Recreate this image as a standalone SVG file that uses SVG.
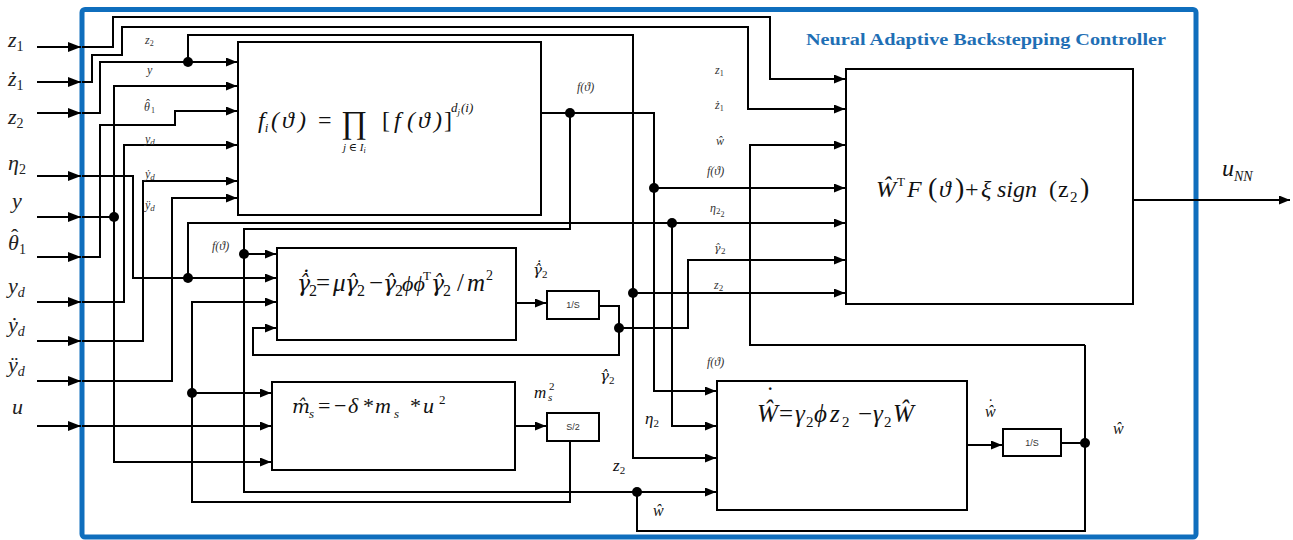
<svg xmlns="http://www.w3.org/2000/svg" width="1293" height="540" viewBox="0 0 1293 540">
<style>
.ln{fill:none;stroke:#000;stroke-width:2}
.ar{marker-end:url(#ah)}
.ai{marker-end:url(#ahi)}
.bx{fill:#fff;stroke:#000;stroke-width:2}
.dot{fill:#000}
.mt{font-family:"Liberation Serif","DejaVu Serif",serif;font-style:italic;fill:#111}
.dv{font-family:"DejaVu Serif",serif}
.up{font-style:normal}
.sm{font-family:"Liberation Serif","DejaVu Serif",serif;font-style:italic;fill:#333;font-size:12px}
.il{font-family:"Liberation Serif","DejaVu Serif",serif;font-style:italic;font-size:22px;fill:#222}
.tiny{font-family:"Liberation Sans",sans-serif;font-size:9px;fill:#333}
.ttl{font-family:"Liberation Serif",serif;font-weight:bold;font-size:17px;fill:#1f6fb5}
</style>
<defs>
<marker id="ah" markerWidth="11" markerHeight="9" refX="11" refY="4.5" orient="auto" markerUnits="userSpaceOnUse"><path d="M0,0 L11,4.5 L0,9 z" fill="#000"/></marker>
<marker id="ahi" markerWidth="13" markerHeight="10" refX="13" refY="5" orient="auto" markerUnits="userSpaceOnUse"><path d="M0,0 L13,5 L0,10 z" fill="#000"/></marker>
</defs>
<rect width="1293" height="540" fill="#fff"/>
<g id="frame">
<rect x="82" y="9.5" width="1114" height="527.5" rx="3" fill="none" stroke="#0f6ebd" stroke-width="5"/>
<text class="ttl" x="806" y="45" textLength="360" lengthAdjust="spacingAndGlyphs">Neural Adaptive Backstepping Controller</text>
</g>
<g id="inputs">
<g id="in-z1"><text class="il" x="8" y="47">z<tspan class="up" font-size="14" dy="4">1</tspan></text></g>
<g id="in-zd1"><text class="il" x="8" y="86">ż<tspan class="up" font-size="14" dy="4">1</tspan></text></g>
<g id="in-z2"><text class="il" x="8" y="124">z<tspan class="up" font-size="14" dy="4">2</tspan></text></g>
<g id="in-eta2"><text class="il" x="8" y="170">η<tspan class="up" font-size="14" dy="4">2</tspan></text></g>
<g id="in-y"><text class="il" x="12" y="208">y</text></g>
<g id="in-th1"><text class="il"><tspan x="8" y="250">θ</tspan><tspan class="up" x="11" y="244">ˆ</tspan><tspan class="up" font-size="14" x="19" y="254">1</tspan></text></g>
<g id="in-yd"><text class="il" x="8" y="293">y<tspan font-size="14" dy="4">d</tspan></text></g>
<g id="in-ydd"><text class="il" x="8" y="332">ẏ<tspan font-size="14" dy="4">d</tspan></text></g>
<g id="in-yddd"><text class="il" x="8" y="372">ÿ<tspan font-size="14" dy="4">d</tspan></text></g>
<g id="in-u"><text class="il" x="12" y="414">u</text></g>
</g>
<g id="node-fi">
<rect class="bx" x="238" y="42" width="303" height="173"/>
<text class="mt" font-size="24" y="128"><tspan x="258">f</tspan><tspan font-size="13" dy="4">i</tspan><tspan x="271" dy="-4">(</tspan><tspan x="282">ϑ</tspan><tspan x="298">)</tspan><tspan class="up" x="318">=</tspan></text>
<text class="mt up" x="341" y="133" font-size="32" font-style="normal">∏</text>
<text class="mt" x="343" y="151" font-size="11">j ∈ I<tspan font-size="8" dy="2">i</tspan></text>
<text class="mt" font-size="24" y="128"><tspan class="up" x="382">[</tspan><tspan x="394">f</tspan><tspan x="407">(</tspan><tspan x="418">ϑ</tspan><tspan x="434">)</tspan><tspan class="up" x="444">]</tspan></text>
<text class="mt" x="451" y="112" font-size="13">d<tspan font-size="9" dy="3">j</tspan><tspan dx="1" dy="-3">(i)</tspan></text>
</g>
<g id="node-gamma">
<rect class="bx" x="277" y="248" width="239" height="92"/>
<text class="mt" font-size="25"><tspan class="dv" font-size="22" x="297" y="291">γ̂̇</tspan><tspan class="up" font-size="16" x="309" y="296">2</tspan><tspan class="up" x="316" y="291">=</tspan><tspan x="333" y="291">μ</tspan><tspan class="dv" font-size="22" x="345" y="291">γ̂</tspan><tspan class="up" font-size="16" x="357" y="296">2</tspan><tspan class="up" x="369" y="291">−</tspan><tspan class="dv" font-size="22" x="383" y="291">γ̂</tspan><tspan class="up" font-size="16" x="395" y="296">2</tspan><tspan font-size="22" x="402" y="291">ϕϕ</tspan><tspan class="up" font-size="13" x="423" y="280">T</tspan><tspan class="dv" font-size="22" x="431" y="291">γ̂</tspan><tspan class="up" font-size="16" x="443" y="296">2</tspan><tspan class="up" x="457" y="291">/</tspan><tspan x="467" y="291">m</tspan><tspan class="up" font-size="14" x="486" y="280">2</tspan></text>
</g>
<g id="node-int-gamma">
<rect class="bx" x="547" y="291" width="52" height="28"/>
<text class="tiny" x="573" y="308" text-anchor="middle">1/S</text>
</g>
<g id="node-ms">
<rect class="bx" x="272" y="382" width="243" height="88"/>
<text class="mt" font-size="22"><tspan class="dv" font-size="19" x="292" y="413">m̂</tspan><tspan font-size="13" x="309" y="418">s</tspan><tspan class="up" x="318" y="413">=</tspan><tspan class="up" x="334" y="413">−</tspan><tspan x="348" y="413">δ</tspan><tspan class="up" x="363" y="413">*</tspan><tspan x="375" y="413">m</tspan><tspan font-size="13" x="394" y="418">s</tspan><tspan class="up" x="410" y="413">*</tspan><tspan x="423" y="413">u</tspan><tspan class="up" font-size="13" x="439" y="404">2</tspan></text>
</g>
<g id="node-s2">
<rect class="bx" x="547" y="413" width="52" height="28"/>
<text class="tiny" x="573" y="430" text-anchor="middle">S/2</text>
</g>
<g id="node-W">
<rect class="bx" x="717" y="381" width="250" height="129"/>
<text class="mt" font-size="25"><tspan x="757" y="422">Ŵ</tspan><tspan class="up" x="766" y="404">˙</tspan><tspan class="up" x="779" y="422">=</tspan><tspan x="795" y="422">γ</tspan><tspan class="up" font-size="15" x="806" y="427">2</tspan><tspan x="814" y="422">ϕ</tspan><tspan x="830" y="422">z</tspan><tspan class="up" font-size="15" x="842" y="427">2</tspan><tspan class="up" x="858" y="422">−</tspan><tspan x="873" y="422">γ</tspan><tspan class="up" font-size="15" x="884" y="427">2</tspan><tspan x="893" y="422">Ŵ</tspan></text>
</g>
<g id="node-int-W">
<rect class="bx" x="1003" y="429" width="58" height="27"/>
<text class="tiny" x="1032" y="446" text-anchor="middle">1/S</text>
</g>
<g id="node-out">
<rect class="bx" x="846" y="69" width="287" height="235"/>
<text class="mt" font-size="24" y="197"><tspan x="876">Ŵ</tspan><tspan class="up" font-size="13" x="897" dy="-11">T</tspan><tspan x="907" dy="11">F</tspan><tspan class="up" font-size="28" x="928">(</tspan><tspan x="939">ϑ</tspan><tspan class="up" font-size="28" x="955">)</tspan><tspan class="up" x="965">+</tspan><tspan x="981">ξ</tspan><tspan x="997">sign</tspan><tspan class="up" x="1049">(</tspan><tspan class="up" x="1058">z</tspan><tspan class="up" font-size="15" x="1070" dy="5">2</tspan><tspan class="up" font-size="28" x="1080" dy="-5">)</tspan></text>
<text class="mt" font-size="24" x="1222" y="176">u<tspan font-size="14" dy="5">NN</tspan></text>
</g>
<g id="connectors">
<path class="ln ai" d="M37,47 H81"/>
<path class="ln ai" d="M37,82 H81"/>
<path class="ln ai" d="M37,113 H81"/>
<path class="ln ai" d="M37,176 H81"/>
<path class="ln ai" d="M37,217 H81"/>
<path class="ln ai" d="M37,257 H81"/>
<path class="ln ai" d="M37,302 H81"/>
<path class="ln ai" d="M37,341 H81"/>
<path class="ln ai" d="M37,381 H81"/>
<path class="ln ai" d="M37,426 H81"/>
<path class="ln ar" d="M82,47 H113 V17 H770 V79 H845"/>
<path class="ln ar" d="M82,82 H92 V55 H122 V27 H748 V109 H845"/>
<path class="ln ar" d="M82,113 H100 V62 H237"/>
<path class="ln ar" d="M188,62 V35 H633 V458 H716"/>
<path class="ln ar" d="M633,293 H845"/>
<path class="ln ar" d="M82,176 H133 V278 H276"/>
<path class="ln ar" d="M188,278 V223 H845"/>
<path class="ln ar" d="M672,223 V426 H716"/>
<path class="ln" d="M82,217 H114"/>
<path class="ln ar" d="M114,217 V86 H237"/>
<path class="ln ar" d="M114,217 V462 H271"/>
<path class="ln ar" d="M82,257 H100 V125 H175 V111 H237"/>
<path class="ln ar" d="M82,302 H124 V145 H237"/>
<path class="ln ar" d="M82,341 H143 V181 H237"/>
<path class="ln ar" d="M82,381 H172 V198 H237"/>
<path class="ln ar" d="M82,426 H271"/>
<path class="ln ar" d="M541,113 H654 V391 H716"/>
<path class="ln ar" d="M570,113 V229 H244 V492 H716"/>
<path class="ln ar" d="M244,254 H276"/>
<path class="ln ar" d="M654,188 H845"/>
<path class="ln ar" d="M516,303 H546"/>
<path class="ln" d="M599,306 H619 V328"/>
<path class="ln ar" d="M619,328 V355 H253 V328 H276"/>
<path class="ln ar" d="M619,328 H688 V260 H845"/>
<path class="ln ar" d="M192,393 H271"/>
<path class="ln ar" d="M515,426 H546"/>
<path class="ln ar" d="M570,441 V502 H192 V302 H276"/>
<path class="ln ar" d="M967,445 H1002"/>
<path class="ln" d="M1061,443 H1085"/>
<path class="ln" d="M1085,345 V531 H637 V492"/>
<path class="ln ar" d="M1085,345 H750 V145 H845"/>
<path class="ln ar" d="M1133,200 H1290"/>
<circle class="dot" cx="188" cy="62" r="5"/>
<circle class="dot" cx="114" cy="217" r="5"/>
<circle class="dot" cx="570" cy="113" r="5"/>
<circle class="dot" cx="654" cy="188" r="5"/>
<circle class="dot" cx="672" cy="223" r="5"/>
<circle class="dot" cx="633" cy="293" r="5"/>
<circle class="dot" cx="244" cy="254" r="5"/>
<circle class="dot" cx="188" cy="278" r="5"/>
<circle class="dot" cx="619" cy="328" r="5"/>
<circle class="dot" cx="192" cy="393" r="5"/>
<circle class="dot" cx="637" cy="492" r="5"/>
<circle class="dot" cx="1085" cy="443" r="5"/>
</g>
<g id="labels">
<text class="sm" x="145" y="44">z<tspan class="up" font-size="8" dy="2">2</tspan></text>
<text class="sm" x="147" y="74">y</text>
<text class="sm"><tspan x="144" y="111">θ</tspan><tspan class="up" x="146" y="108">ˆ</tspan><tspan class="up" font-size="8" x="151" y="113">1</tspan></text>
<text class="sm" x="145" y="143">y<tspan font-size="9" dy="2">d</tspan></text>
<text class="sm" x="145" y="178">ẏ<tspan font-size="9" dy="2">d</tspan></text>
<text class="sm" x="145" y="209">ÿ<tspan font-size="9" dy="2">d</tspan></text>
<text class="sm" x="577" y="91" font-size="11">f(ϑ)</text>
<text class="sm" x="212" y="250" font-size="10">f(ϑ)</text>
<text class="sm" x="715" y="74">z<tspan class="up" font-size="8" dy="2">1</tspan></text>
<text class="sm" x="715" y="109">ż<tspan class="up" font-size="8" dy="2">1</tspan></text>
<text class="sm" x="716" y="145">ŵ</text>
<text class="sm" x="707" y="175">f(ϑ)</text>
<text class="sm" x="710" y="212">η<tspan class="up" font-size="9" dy="2">2</tspan><tspan class="up" font-size="8" dy="3">2</tspan></text>
<text class="sm"><tspan class="dv" font-size="11" x="714" y="252">γ̂</tspan><tspan class="up" font-size="9" x="721" y="254">2</tspan></text>
<text class="sm" x="714" y="289">z<tspan class="up" font-size="9" dy="2">2</tspan></text>
<text class="mt" font-size="17"><tspan class="dv" font-size="15" x="533" y="275">γ̂̇</tspan><tspan class="up" font-size="11" x="542" y="278">2</tspan></text>
<text class="mt" font-size="17"><tspan class="dv" font-size="15" x="600" y="381">γ̂</tspan><tspan class="up" font-size="11" x="609" y="384">2</tspan></text>
<text class="mt" font-size="17"><tspan x="534" y="398">m</tspan><tspan font-size="11" x="548" y="401">s</tspan><tspan class="up" font-size="11" x="549" y="390">2</tspan></text>
<text class="sm" x="707" y="366" font-size="12">f(ϑ)</text>
<text class="mt" x="645" y="424" font-size="17">η<tspan class="up" font-size="11" dy="3">2</tspan></text>
<text class="mt" x="613" y="471" font-size="17">z<tspan class="up" font-size="11" dy="3">2</tspan></text>
<text class="mt" x="653" y="516" font-size="16">ŵ</text>
<text class="mt" font-size="16"><tspan x="985" y="417">ŵ</tspan><tspan class="up" x="988" y="410">˙</tspan></text>
<text class="mt" x="1113" y="434" font-size="16">ŵ</text>
</g>
</svg>
